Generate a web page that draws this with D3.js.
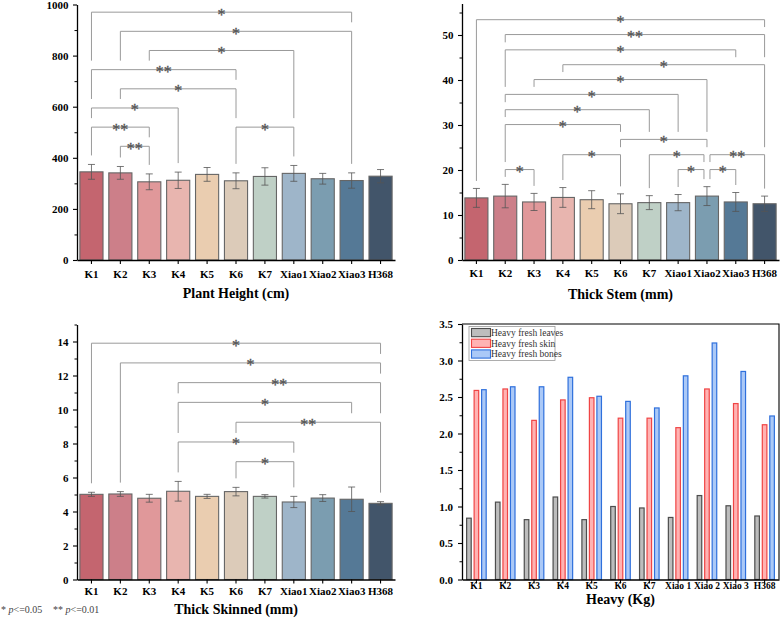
<!DOCTYPE html>
<meta charset="utf-8">
<style>
* { margin: 0; padding: 0; }
body { background: #fff; }
svg { display: block; font-family: "Liberation Serif", "Times New Roman", serif; }
</style>
<body>
<script src="https://cdn.jsdelivr.net/npm/d3@7/dist/d3.min.js"></script>
<script>

// ---- data ----
var categories = ["K1", "K2", "K3", "K4", "K5", "K6", "K7", "Xiao1", "Xiao2", "Xiao3", "H368"];

var heightMean = [345, 341, 306, 312, 335, 310, 327, 339, 318, 311, 328];
var heightErr  = [29, 25, 31, 32, 27, 31, 34, 31, 21, 30, 26];
var heightTicks = [0, 200, 400, 600, 800, 1000];
// [from, to, level, mark]
var heightSig = [
	["K1", "Xiao3", 970, "*"],
	["K2", "Xiao3", 895, "*"],
	["K3", "Xiao1", 820, "*"],
	["K1", "K6", 745, "**"],
	["K2", "K6", 670, "*"],
	["K1", "K4", 595, "*"],
	["K1", "K3", 520, "**"],
	["K6", "Xiao1", 520, "*"],
	["K2", "K3", 445, "**"]
];

var stemMean = [13.8, 14.2, 12.9, 13.9, 13.4, 12.5, 12.75, 12.75, 14.2, 12.9, 12.5];
var stemErr  = [2.1, 2.6, 1.9, 2.2, 2.0, 2.2, 1.55, 1.8, 2.1, 2.1, 1.7];
var stemTicks = [0, 10, 20, 30, 40, 50];
var stemSig = [
	["K1", "H368", 53.4, "*"],
	["K2", "H368", 50.1, "**"],
	["K2", "Xiao3", 46.7, "*"],
	["K4", "H368", 43.4, "*"],
	["K3", "Xiao2", 40.1, "*"],
	["K2", "Xiao1", 36.8, "*"],
	["K2", "K7", 33.4, "*"],
	["K2", "K6", 30.1, "*"],
	["K6", "Xiao2", 26.8, "*"],
	["K4", "K6", 23.4, "*"],
	["K7", "Xiao2", 23.4, "*"],
	["Xiao2", "H368", 23.4, "**"],
	["K2", "K3", 20.1, "*"],
	["Xiao1", "Xiao2", 20.1, "*"],
	["Xiao2", "Xiao3", 20.1, "*"]
];

var skinMean = [5.01, 5.03, 4.78, 5.19, 4.89, 5.17, 4.89, 4.56, 4.79, 4.72, 4.48];
var skinErr  = [0.12, 0.14, 0.23, 0.58, 0.12, 0.25, 0.1, 0.33, 0.2, 0.72, 0.1];
var skinTicks = [0, 2, 4, 6, 8, 10, 12, 14];
var skinSig = [
	["K1", "H368", 13.9, "*"],
	["K2", "H368", 12.74, "*"],
	["K4", "H368", 11.58, "**"],
	["K4", "Xiao3", 10.42, "*"],
	["K6", "H368", 9.25, "**"],
	["K4", "Xiao1", 8.09, "*"],
	["K6", "Xiao1", 6.93, "*"]
];

var weightCategories = ["K1", "K2", "K3", "K4", "K5", "K6", "K7", "Xiao 1", "Xiao 2", "Xiao 3", "H368"];
var weightSeries = ["Heavy fresh leaves", "Heavy fresh skin", "Heavy fresh bones"];
var leavesWeight = [0.84, 1.06, 0.82, 1.13, 0.82, 1.00, 0.98, 0.85, 1.15, 1.01, 0.87];
var skinWeight   = [2.59, 2.61, 2.18, 2.46, 2.49, 2.21, 2.21, 2.08, 2.61, 2.41, 2.12];
var bonesWeight  = [2.60, 2.64, 2.64, 2.77, 2.51, 2.44, 2.35, 2.79, 3.24, 2.85, 2.24];
var weightTicks = [0, 0.5, 1, 1.5, 2, 2.5, 3, 3.5];

// ---- styles ----
var barColors = ["#c4656f", "#cc7f89", "#e0989a", "#e8b5af", "#eacdb0", "#dccbb9",
                 "#bfd0c6", "#9eb5c9", "#7b9db0", "#557996", "#42556a"];
var seriesFill = ["#bdbdbd", "#ffb3b3", "#abc9f7"];
var seriesStroke = ["#4d4d4d", "#f04545", "#2f70dc"];
var font = "'Liberation Serif', 'Times New Roman', serif";

var width = 780, height = 618;

var svg = d3.select("body").append("svg")
	.attr("width", width)
	.attr("height", height);

function styleAxis(g, fontSize) {
	g.attr("font-family", font);
	g.select(".domain").attr("stroke", "#000").attr("stroke-width", 1.3);
	g.selectAll(".tick line").attr("stroke", "#000").attr("stroke-width", 1.1);
	g.selectAll("text")
		.attr("font-family", font)
		.attr("font-weight", "bold")
		.attr("font-size", fontSize)
		.attr("fill", "#000");
}

function minorTicks(ticks, maxV) {
	var step = ticks[1] - ticks[0];
	var out = [];
	for (var v = step / 2; v <= maxV + 1e-9; v += step) out.push(+v.toFixed(4));
	return out.filter(function(v) { return ticks.indexOf(v) < 0; });
}

function drawPanel(p) {
	var g = svg.append("g");

	var x = d3.scaleBand()
		.domain(categories)
		.range([p.left, p.right])
		.paddingInner(0.2)
		.paddingOuter(0.1);

	var y = d3.scaleLinear()
		.domain([0, p.max])
		.range([p.bottom, p.top]);

	var cx = function(c) { return x(c) + x.bandwidth() / 2; };

	// bars
	g.selectAll("rect.bar")
		.data(categories)
		.enter().append("rect")
		.attr("class", "bar")
		.attr("x", function(d) { return x(d); })
		.attr("y", function(d, i) { return y(p.mean[i]); })
		.attr("width", x.bandwidth())
		.attr("height", function(d, i) { return y(0) - y(p.mean[i]); })
		.attr("fill", function(d, i) { return barColors[i]; })
		.attr("stroke", "#666")
		.attr("stroke-width", 1.1);

	// error bars
	var eb = g.selectAll("g.err")
		.data(categories)
		.enter().append("g")
		.attr("stroke", "#555")
		.attr("stroke-width", 0.8);
	eb.append("line")
		.attr("x1", cx).attr("x2", cx)
		.attr("y1", function(d, i) { return y(p.mean[i] + p.err[i]); })
		.attr("y2", function(d, i) { return y(p.mean[i] - p.err[i]); });
	[1, -1].forEach(function(s) {
		eb.append("line")
			.attr("x1", function(d) { return cx(d) - 3.5; })
			.attr("x2", function(d) { return cx(d) + 3.5; })
			.attr("y1", function(d, i) { return y(p.mean[i] + s * p.err[i]); })
			.attr("y2", function(d, i) { return y(p.mean[i] + s * p.err[i]); });
	});

	// significance brackets
	var items = p.sig.map(function(s) {
		return { a: s[0], b: s[1], level: s[2], label: s[3],
			ia: categories.indexOf(s[0]), ib: categories.indexOf(s[1]),
			yy: y(s[2]) };
	});
	items.forEach(function(s) {
		s.xa = cx(s.a);
		s.xb = cx(s.b);
		items.forEach(function(t) {
			if (t === s || t.level !== s.level) return;
			if (t.ia === s.ib) s.xb -= 3;
			if (t.ib === s.ia) s.xa += 3;
		});
	});
	function legEnd(s, i) {
		var bottom = y(p.mean[i] + p.err[i]);
		items.forEach(function(t) {
			if (t.yy > s.yy && t.ia <= i && i <= t.ib) bottom = Math.min(bottom, t.yy);
		});
		return bottom - p.gap;
	}
	items.forEach(function(s) {
		g.append("path")
			.attr("d", "M" + s.xa + "," + legEnd(s, s.ia) + "V" + s.yy + "H" + s.xb + "V" + legEnd(s, s.ib))
			.attr("fill", "none")
			.attr("stroke", "#9a9a9a")
			.attr("stroke-width", 1);
		// stroked so the glyph gets plain grey antialiasing
		g.append("text")
			.attr("x", (s.xa + s.xb) / 2)
			.attr("y", s.yy + 7.5)
			.attr("text-anchor", "middle")
			.attr("font-family", font)
			.attr("font-size", 16)
			.attr("fill", "#555")
			.attr("stroke", "#555")
			.attr("stroke-width", 0.35)
			.text(s.label);
	});

	// axes
	var ya = g.append("g")
		.attr("transform", "translate(" + p.left + ",0)")
		.call(d3.axisLeft(y).tickValues(p.ticks).tickFormat(d3.format("d"))
			.tickSize(4).tickSizeOuter(0).tickPadding(4.5));
	styleAxis(ya, 11);
	g.append("g")
		.attr("transform", "translate(" + p.left + ",0)")
		.call(d3.axisLeft(y).tickValues(minorTicks(p.ticks, p.max)).tickSize(2.5).tickFormat(""))
		.call(function(a) {
			a.select(".domain").remove();
			a.selectAll("line").attr("stroke", "#000");
		});

	var xa = g.append("g")
		.attr("transform", "translate(0," + p.bottom + ")")
		.call(d3.axisBottom(x).tickSize(4).tickSizeOuter(0).tickPadding(p.labelPad));
	styleAxis(xa, 11);

	g.append("text")
		.attr("x", (p.left + p.right) / 2)
		.attr("y", p.titleY)
		.attr("text-anchor", "middle")
		.attr("font-family", font)
		.attr("font-weight", "bold")
		.attr("font-size", 14)
		.text(p.title);
}

drawPanel({ left: 77, right: 395, top: 4.5, bottom: 260, max: 1000,
	mean: heightMean, err: heightErr, ticks: heightTicks, sig: heightSig,
	gap: 9, labelPad: 6, title: "Plant Height (cm)", titleY: 297.5 });

drawPanel({ left: 462, right: 779, top: 3.5, bottom: 260, max: 57,
	mean: stemMean, err: stemErr, ticks: stemTicks, sig: stemSig,
	gap: 7.5, labelPad: 5, title: "Thick Stem (mm)", titleY: 299 });

drawPanel({ left: 77, right: 395, top: 324.5, bottom: 579.5, max: 15,
	mean: skinMean, err: skinErr, ticks: skinTicks, sig: skinSig,
	gap: 9, labelPad: 3.5, title: "Thick Skinned (mm)", titleY: 614 });

// ---- grouped bars (weight) ----
(function() {
	var left = 462, right = 779, top = 324, bottom = 579.5;
	var g = svg.append("g");
	var values = [leavesWeight, skinWeight, bonesWeight];

	var x = d3.scaleBand()
		.domain(weightCategories)
		.range([left, right])
		.paddingInner(0.28)
		.paddingOuter(0.14);
	var xs = d3.scaleBand()
		.domain(weightSeries)
		.range([0, x.bandwidth()])
		.paddingInner(0.23)
		.paddingOuter(0);
	var y = d3.scaleLinear().domain([0, 3.5]).range([bottom, top]);

	weightSeries.forEach(function(s, k) {
		g.selectAll(null)
			.data(weightCategories)
			.enter().append("rect")
			.attr("x", function(d) { return x(d) + xs(s) + 0.6; })
			.attr("y", function(d, i) { return y(values[k][i]); })
			.attr("width", xs.bandwidth() - 1.2)
			.attr("height", function(d, i) { return y(0) - y(values[k][i]); })
			.attr("fill", seriesFill[k])
			.attr("stroke", seriesStroke[k])
			.attr("stroke-width", 1.2);
	});

	// frame
	g.append("path")
		.attr("d", "M" + left + "," + top + "H" + right + "V" + bottom)
		.attr("fill", "none")
		.attr("stroke", "#000")
		.attr("stroke-width", 1.1);

	var ya = g.append("g")
		.attr("transform", "translate(" + left + ",0)")
		.call(d3.axisLeft(y).tickValues(weightTicks).tickFormat(d3.format(".1f"))
			.tickSize(4).tickSizeOuter(0).tickPadding(5));
	styleAxis(ya, 11);
	g.append("g")
		.attr("transform", "translate(" + left + ",0)")
		.call(d3.axisLeft(y).tickValues(minorTicks(weightTicks, 3.5)).tickSize(2.5).tickFormat(""))
		.call(function(a) {
			a.select(".domain").remove();
			a.selectAll("line").attr("stroke", "#000");
		});

	var xa = g.append("g")
		.attr("transform", "translate(0," + bottom + ")")
		.call(d3.axisBottom(x).tickSize(4).tickSizeOuter(0));
	styleAxis(xa, 9.5);
	xa.selectAll(".tick text").attr("y", 3);

	g.append("text")
		.attr("x", (left + right) / 2)
		.attr("y", 604)
		.attr("text-anchor", "middle")
		.attr("font-family", font)
		.attr("font-weight", "bold")
		.attr("font-size", 14)
		.text("Heavy (Kg)");

	// legend
	var lg = g.append("g");
	lg.append("rect")
		.attr("x", 469).attr("y", 326.5)
		.attr("width", 86).attr("height", 34)
		.attr("fill", "#fff")
		.attr("stroke", "#999")
		.attr("stroke-width", 0.8);
	weightSeries.forEach(function(s, k) {
		var ly = 332.5 + k * 10.7;
		lg.append("rect")
			.attr("x", 471.5).attr("y", ly - 4)
			.attr("width", 19).attr("height", 8.2)
			.attr("fill", seriesFill[k])
			.attr("stroke", seriesStroke[k])
			.attr("stroke-width", 1.1);
		lg.append("text")
			.attr("x", 491).attr("y", ly + 3.3)
			.attr("font-family", font)
			.attr("font-size", 9.5)
			.attr("fill", "#333")
			.text(s);
	});
})();

// footnote
var note = svg.append("text")
	.attr("x", 1).attr("y", 613)
	.attr("font-family", font)
	.attr("font-size", 10)
	.attr("fill", "#444");
note.append("tspan").text("* ");
note.append("tspan").attr("font-style", "italic").text("p");
note.append("tspan").text("<=0.05");
note.append("tspan").attr("x", 53).text("** ");
note.append("tspan").attr("font-style", "italic").text("p");
note.append("tspan").text("<=0.01");

</script>
</body>
